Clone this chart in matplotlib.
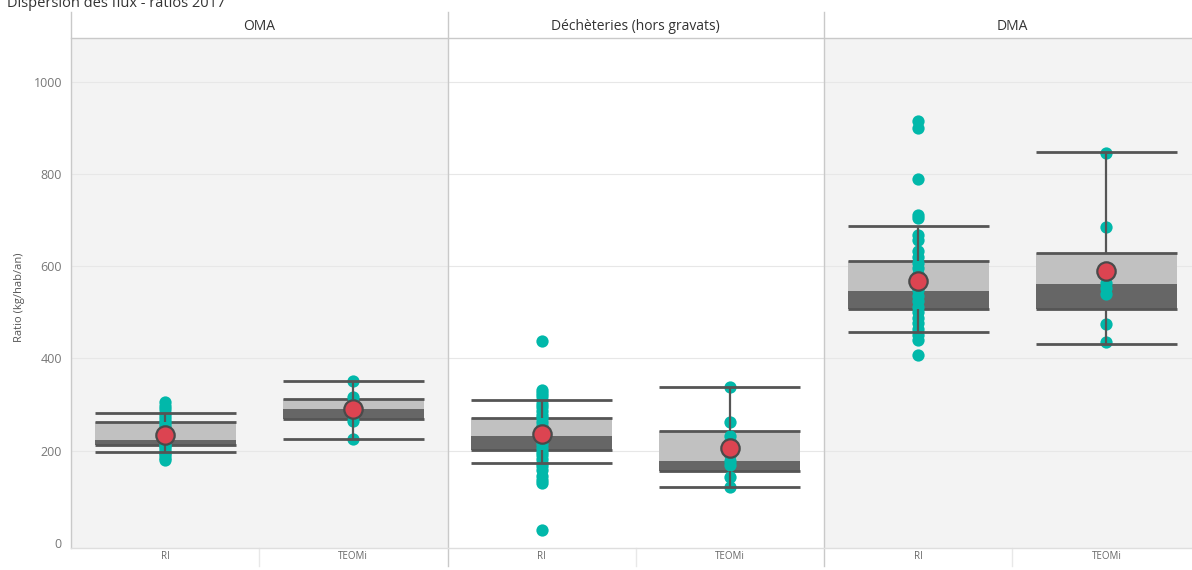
import matplotlib
matplotlib.use("Agg")
import matplotlib.pyplot as plt
from matplotlib.patches import Rectangle
from matplotlib.transforms import blended_transform_factory

# ---- data -------------------------------------------------------------
title = "Dispersion des flux - ratios 2017"
panels = ["OMA", "Déchèteries (hors gravats)", "DMA"]
groups = ["RI", "TEOMi"]
y_ticks = [0, 200, 400, 600, 800, 1000]
y_label = "Ratio (kg/hab/an)"

# box statistics, order: OMA-RI, OMA-TEOMi, Déch-RI, Déch-TEOMi, DMA-RI, DMA-TEOMi
whisker_low = [198, 226, 173, 122, 458, 432]
q1 = [212, 268, 201, 156, 507, 508]
median = [223, 290, 231, 178, 547, 561]
q3 = [263, 312, 270, 243, 611, 628]
whisker_high = [281, 352, 311, 339, 688, 847]
mean = [234, 290, 237, 205, 568, 589]

# individual ratios per group
oma_ri = [306, 298, 290, 282, 275, 268, 262, 256, 250, 244, 238, 232,
          226, 220, 215, 210, 205, 200, 195, 190, 185, 180]
oma_teomi = [352, 317, 300, 288, 276, 265, 226]
dech_ri = [437, 332, 326, 318, 310, 302, 294, 286, 278, 270, 262, 254,
           246, 238, 230, 222, 214, 206, 198, 190, 182, 174, 166, 158,
           145, 137, 130, 27]
dech_teomi = [339, 262, 231, 222, 212, 200, 190, 178, 168, 144, 122]
dma_ri = [914, 900, 789, 711, 704, 668, 657, 632, 620, 608, 596, 584,
          572, 560, 548, 536, 524, 512, 500, 488, 476, 464, 452, 440, 408]
dma_teomi = [845, 685, 589, 564, 552, 540, 474, 435]
points = [oma_ri, oma_teomi, dech_ri, dech_teomi, dma_ri, dma_teomi]

# ---- style ------------------------------------------------------------
plt.rcParams["font.family"] = ["Open Sans", "DejaVu Sans"]
panel_bg = ["#f3f3f3", "#ffffff", "#f3f3f3"]
c_light = "#c1c1c1"
c_dark = "#666666"
c_line = "#555555"
c_point = "#01b8aa"
c_mean = "#dc4451"
c_frame = "#c9c9c9"

W, H = 1192, 570
fig = plt.figure(figsize=(W / 100, H / 100), dpi=100)
fig.patch.set_facecolor("white")


def rect(x0, y0, x1, y1):
    return [x0 / W, 1 - y1 / H, (x1 - x0) / W, (y1 - y0) / H]


def fy(py):
    return 1 - py / H


ax = fig.add_axes(rect(71, 38, 1200.5, 548))
ax.set_xlim(0, 2 * len(panels))
ax.set_ylim(-11, 1095)
ax.set_facecolor("white")
for s in ax.spines.values():
    s.set_visible(False)

for i, bg in enumerate(panel_bg):
    ax.axvspan(2 * i, 2 * i + 2, color=bg, lw=0, zorder=0)
for v in y_ticks[1:]:
    ax.axhline(v, color="#e7e7e7", lw=0.8, zorder=0.5)

bw = 0.75
for k, pts in enumerate(points):
    xc = k + 0.5
    x0, x1 = xc - bw / 2, xc + bw / 2
    ax.add_patch(Rectangle((x0, median[k]), bw, q3[k] - median[k],
                           fc=c_light, lw=0, zorder=2))
    ax.add_patch(Rectangle((x0, q1[k]), bw, median[k] - q1[k],
                           fc=c_dark, lw=0, zorder=2))
    ax.hlines([q1[k], q3[k]], x0, x1, color=c_line, lw=2, zorder=2.5)
    ax.scatter([xc] * len(pts), pts, s=78, color=c_point, lw=0, zorder=3)
    ax.vlines(xc, q3[k], whisker_high[k], color=c_line, lw=1.6, zorder=4)
    ax.vlines(xc, whisker_low[k], q1[k], color=c_line, lw=1.6, zorder=4)
    ax.hlines([whisker_low[k], whisker_high[k]], x0, x1, color=c_line,
              lw=2, zorder=4)
    ax.scatter([xc], [mean[k]], s=175, color=c_mean, edgecolor="#4a4a4a",
               lw=1.6, zorder=5)

ax.set_yticks(y_ticks)
ax.set_yticklabels([str(v) for v in y_ticks], fontsize=9, color="#777777")
ax.set_xticks([k + 0.5 for k in range(len(points))])
ax.set_xticklabels(groups * len(panels), fontsize=7, color="#666666")
ax.tick_params(axis="both", length=0)
ax.tick_params(axis="y", pad=6.5)
ax.tick_params(axis="x", pad=2.5)

# frame lines, panel separators and strip headers
tr = blended_transform_factory(ax.transData, fig.transFigure)
ax.plot([0, 0], [fy(12), fy(548)], color=c_frame, lw=1, transform=tr,
        clip_on=False, zorder=6)
for xs in range(2, 2 * len(panels), 2):
    ax.plot([xs, xs], [fy(12), fy(566)], color=c_frame, lw=1, transform=tr,
            clip_on=False, zorder=6)
for xs in range(1, 2 * len(panels), 2):
    ax.plot([xs, xs], [fy(548), fy(566)], color="#e8e8e8", lw=1,
            transform=tr, clip_on=False, zorder=6)
ax.plot([0, 6], [fy(38), fy(38)], color=c_frame, lw=1, transform=tr,
        clip_on=False, zorder=6)
ax.plot([0, 6], [fy(548), fy(548)], color="#dedede", lw=1, transform=tr,
        clip_on=False, zorder=6)
for i, name in enumerate(panels):
    ax.text(2 * i + 1, fy(26), name, transform=tr, ha="center",
            va="center", fontsize=10, color="#333333")

fig.text(7 / W, fy(7), title, ha="left", va="baseline", fontsize=10.5,
         color="#333333")
fig.text(20 / W, fy(297), y_label, rotation=90, ha="center", va="center",
         fontsize=8, color="#555555")

fig.savefig("out.png", dpi=100, facecolor="white")
